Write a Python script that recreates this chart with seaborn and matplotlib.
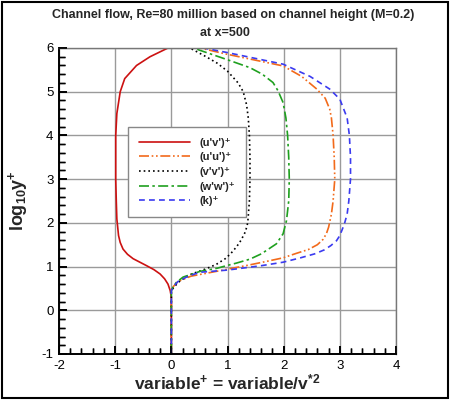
import numpy as np
import pandas as pd
import matplotlib
matplotlib.use("Agg")
import matplotlib.pyplot as plt
import seaborn as sns
from matplotlib.patches import Rectangle
from matplotlib.ticker import MultipleLocator

# ---------------- data ----------------
uv_y = [-1.0, 0.30, 0.45, 0.60, 0.72, 0.83, 0.93, 1.02, 1.10, 1.18, 1.28, 1.40, 1.55, 1.71,
        2.09, 2.5, 3.0, 3.5, 4.0, 4.5, 5.0, 5.3, 5.6, 5.8, 6.0]
uv_x = [0.0, 0.0, -0.02, -0.06, -0.12, -0.20, -0.31, -0.44, -0.56, -0.68, -0.78, -0.86, -0.91, -0.94,
        -0.97, -0.98, -0.99, -0.99, -0.99, -0.97, -0.91, -0.83, -0.62, -0.38, -0.06]

uu_y = [-1.0, 0.45, 0.55, 0.66, 0.78, 0.90, 0.97, 1.04, 1.12, 1.20, 1.30, 1.39, 1.50, 1.62, 1.75,
        1.90, 2.2, 2.5, 3.0, 3.5, 4.0, 4.4, 4.6, 4.85, 5.06, 5.35, 5.59, 5.86, 6.0]
uu_x = [0.0, 0.0, 0.04, 0.12, 0.35, 0.84, 1.12, 1.40, 1.70, 1.99, 2.22, 2.44, 2.60, 2.70, 2.76,
        2.80, 2.85, 2.88, 2.91, 2.90, 2.88, 2.85, 2.82, 2.74, 2.59, 2.32, 1.99, 0.98, 0.51]

vv_y = [-1.0, 0.45, 0.55, 0.68, 0.83, 0.95, 1.05, 1.18, 1.30, 1.45, 1.60, 1.80, 2.0, 2.5, 3.0,
        3.5, 4.0, 4.4, 4.7, 5.0, 5.2, 5.47, 5.65, 5.8, 6.0]
vv_x = [0.0, 0.0, 0.06, 0.16, 0.36, 0.62, 0.80, 0.96, 1.06, 1.16, 1.24, 1.32, 1.36, 1.39, 1.40,
        1.40, 1.39, 1.37, 1.34, 1.28, 1.19, 1.00, 0.82, 0.62, 0.33]

ww_y = [-1.0, 0.45, 0.53, 0.64, 0.76, 0.89, 0.96, 1.02, 1.08, 1.17, 1.29, 1.40, 1.52, 1.75, 2.05,
        2.5, 3.0, 3.5, 4.0, 4.4, 4.75, 5.02, 5.21, 5.40, 5.55, 5.74, 6.0]
ww_x = [0.0, 0.0, 0.03, 0.09, 0.21, 0.51, 0.81, 0.98, 1.16, 1.40, 1.60, 1.73, 1.87, 1.99, 2.05,
        2.09, 2.10, 2.09, 2.07, 2.04, 1.99, 1.90, 1.81, 1.62, 1.40, 0.98, 0.39]

k_y = [-1.0, 0.45, 0.55, 0.66, 0.78, 0.87, 0.92, 1.02, 1.10, 1.20, 1.29, 1.38, 1.48, 1.59, 1.71,
       1.84, 1.97, 2.2, 2.5, 3.0, 3.5, 4.0, 4.4, 4.83, 5.06, 5.35, 5.63, 5.90, 6.0]
k_x = [0.0, 0.0, 0.04, 0.12, 0.30, 0.51, 1.00, 1.60, 1.99, 2.30, 2.55, 2.72, 2.84, 2.94, 3.00,
       3.04, 3.08, 3.13, 3.16, 3.19, 3.19, 3.17, 3.13, 3.00, 2.82, 2.47, 1.99, 0.98, 0.57]

labels = ["(u'v')\u207a", "(u'u')\u207a", "(v'v')\u207a", "(w'w')\u207a", "(k)\u207a"]
series_x = [uv_x, uu_x, vv_x, ww_x, k_x]
series_y = [uv_y, uu_y, vv_y, ww_y, k_y]

x_ticks = [-2, -1, 0, 1, 2, 3, 4]
y_ticks = [-1, 0, 1, 2, 3, 4, 5, 6]

# ---------------- build long table ----------------
rows = []
for lab, xs, ys in zip(labels, series_x, series_y):
    for xv, yv in zip(xs, ys):
        rows.append({"series": lab, "value": xv, "logy": yv})
df = pd.DataFrame(rows)

colors = ["#cc1111", "#f26a1b", "#000000", "#1fa01f", "#3b3bf0"]
dash_list = ["", (6, 1.6, 1, 1.6, 1, 1.6), (1, 1.8), (6, 2, 1.5, 2), (3.5, 2.5)]
palette = dict(zip(labels, colors))
dashes = dict(zip(labels, dash_list))

# ---------------- style ----------------
sns.set_theme(style="ticks")
plt.rcParams["font.family"] = ["Liberation Sans", "DejaVu Sans"]
plt.rcParams["axes.unicode_minus"] = False
plt.rcParams["mathtext.fontset"] = "custom"
plt.rcParams["mathtext.rm"] = "Liberation Sans:bold"
plt.rcParams["mathtext.it"] = "Liberation Sans:bold"
plt.rcParams["mathtext.bf"] = "Liberation Sans:bold"

fig, ax = plt.subplots(figsize=(4.5, 4.0), dpi=100)
fig.subplots_adjust(left=59 / 450, right=396 / 450, bottom=1 - 354 / 400, top=1 - 48 / 400)

sns.lineplot(data=df, x="value", y="logy", hue="series", style="series",
             hue_order=labels, style_order=labels,
             palette=palette, dashes=dashes, sort=False, estimator=None,
             linewidth=1.2, ax=ax, legend=False)

ax.set_xlim(-2, 4)
ax.set_ylim(-1, 6)
ax.set_xticks(x_ticks)
ax.set_yticks(y_ticks)
ax.set_xticklabels([str(t) for t in x_ticks])
ax.set_yticklabels([str(t) for t in y_ticks])
ax.xaxis.set_minor_locator(MultipleLocator(0.2))
ax.yaxis.set_minor_locator(MultipleLocator(0.2))
ax.grid(True, which="major", color="#9a9a9a", linewidth=1.0)
for s in ["left", "bottom"]:
    ax.spines[s].set_color("black")
    ax.spines[s].set_linewidth(1.4)
for s in ["top", "right"]:
    ax.spines[s].set_color("#777777")
    ax.spines[s].set_linewidth(1.0)

ax.set_xlabel("variable$^{+}$ = variable/v$^{*2}$", fontsize=12.5, fontweight="bold", labelpad=1)
ax.set_ylabel("log$_{10}$y$^{+}$", fontsize=13, fontweight="bold")
ax.yaxis.set_label_coords(-0.085, 0.5)

fig.text(233 / 450, 1 - 15 / 400, "Channel flow, Re=80 million based on channel height (M=0.2)",
         ha="center", va="center", fontsize=9, fontweight="bold")
fig.text(225 / 450, 1 - 33 / 400, "at x=500", ha="center", va="center",
         fontsize=9, fontweight="bold")

# legend
handles = []
for lab in labels:
    h = plt.Line2D([], [], color=palette[lab], linewidth=1.2)
    if dashes[lab]:
        h.set_dashes(dashes[lab])
    handles.append(h)
leg = ax.legend(handles, labels, loc="upper left", bbox_to_anchor=(0.205, 0.742),
                frameon=True, fancybox=False, shadow=False, framealpha=1,
                edgecolor="#888888", handlelength=4.6, handletextpad=0.9,
                labelspacing=0.42, borderpad=0.95, borderaxespad=0,
                prop={"weight": "bold", "size": 8})
leg.get_frame().set_linewidth(1.0)

ax.tick_params(which="major", direction="in", length=6, width=1.2, labelsize=9.5,
               pad=4, color="black", labelcolor="black",
               left=True, bottom=True, top=False, right=False)
ax.tick_params(which="minor", direction="in", length=4, width=1.0, color="black",
               left=True, bottom=True, top=False, right=False)

# transparent overlay axes carrying the inward tick marks (same limits as ax)
tk = ax.inset_axes([0, 0, 1, 1])
tk.set_xlim(ax.get_xlim())
tk.set_ylim(ax.get_ylim())
tk.patch.set_visible(False)
tk.grid(False)
for s in tk.spines.values():
    s.set_visible(False)
tk.set_xticks(x_ticks)
tk.set_yticks(y_ticks)
tk.xaxis.set_minor_locator(MultipleLocator(0.2))
tk.yaxis.set_minor_locator(MultipleLocator(0.2))
tk.tick_params(which="major", direction="in", length=6, width=1.2, color="black",
               left=True, bottom=True, top=False, right=False,
               labelleft=False, labelbottom=False)
tk.tick_params(which="minor", direction="in", length=4, width=1.0, color="black",
               left=True, bottom=True, top=False, right=False,
               labelleft=False, labelbottom=False)

fig.add_artist(Rectangle((2 / 450, 2 / 400), 446 / 450, 396 / 400, transform=fig.transFigure,
                         fill=False, edgecolor="black", linewidth=1.5))

fig.savefig("out.png", dpi=100)
